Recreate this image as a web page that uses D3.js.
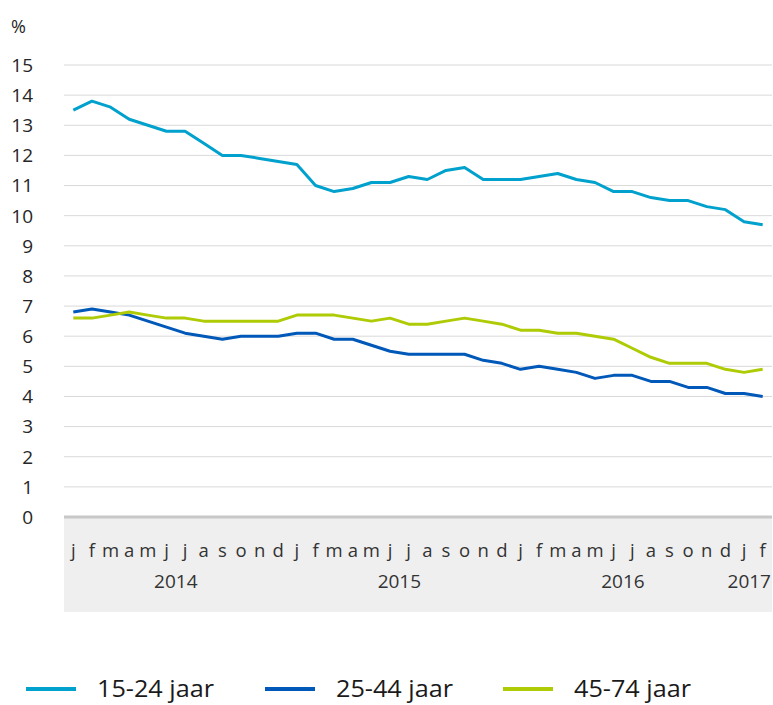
<!DOCTYPE html>
<html>
<head>
<meta charset="utf-8">
<script src="https://cdn.jsdelivr.net/npm/d3@7"></script>
<style>
  body { margin: 0; background: #fff; }
  svg { display: block; font-family: "Open Sans", "DejaVu Sans", sans-serif; }
</style>
</head>
<body>
<svg id="chart" width="773" height="705"></svg>
<script>
// Werkloosheid per leeftijdsgroep, jan 2014 - feb 2017
const monthLabels = ['j','f','m','a','m','j','j','a','s','o','n','d'];
const years = [2014, 2015, 2016, 2017];
const yTicks = d3.range(0, 16);

const age15_24 = [13.5,13.8,13.6,13.2,13.0,12.8,12.8,12.4,12.0,12.0,11.9,11.8,
                  11.7,11.0,10.8,10.9,11.1,11.1,11.3,11.2,11.5,11.6,11.2,11.2,
                  11.2,11.3,11.4,11.2,11.1,10.8,10.8,10.6,10.5,10.5,10.3,10.2,
                  9.8,9.7];
const age25_44 = [6.8,6.9,6.8,6.7,6.5,6.3,6.1,6.0,5.9,6.0,6.0,6.0,
                  6.1,6.1,5.9,5.9,5.7,5.5,5.4,5.4,5.4,5.4,5.2,5.1,
                  4.9,5.0,4.9,4.8,4.6,4.7,4.7,4.5,4.5,4.3,4.3,4.1,
                  4.1,4.0];
const age45_74 = [6.6,6.6,6.7,6.8,6.7,6.6,6.6,6.5,6.5,6.5,6.5,6.5,
                  6.7,6.7,6.7,6.6,6.5,6.6,6.4,6.4,6.5,6.6,6.5,6.4,
                  6.2,6.2,6.1,6.1,6.0,5.9,5.6,5.3,5.1,5.1,5.1,4.9,
                  4.8,4.9];

const seriesNames = ['15-24 jaar', '25-44 jaar', '45-74 jaar'];
const seriesColors = ['#00a1cd', '#0058b8', '#afcb05'];
const seriesData = [age15_24, age25_44, age45_74];

const svg = d3.select('#chart');
const plotLeft = 64, plotRight = 772, plotTop = 65, plotBottom = 517;

// month index 0..37
const periods = d3.range(age15_24.length);

const x = d3.scaleBand()
    .domain(periods)
    .range([plotLeft, plotRight]);

const y = d3.scaleLinear()
    .domain([0, 15])
    .range([plotBottom, plotTop]);

// gray band under the axis
svg.append('rect')
    .attr('x', plotLeft).attr('y', plotBottom)
    .attr('width', plotRight - plotLeft).attr('height', 95)
    .attr('fill', '#efefef');

// gridlines
svg.append('g')
    .selectAll('line')
    .data(yTicks.filter(d => d > 0))
    .join('line')
    .attr('x1', plotLeft).attr('x2', plotRight)
    .attr('y1', d => y(d)).attr('y2', d => y(d))
    .attr('stroke', '#d9d9d9')
    .attr('stroke-width', 1);

// axis line
svg.append('line')
    .attr('x1', plotLeft).attr('x2', plotRight)
    .attr('y1', y(0)).attr('y2', y(0))
    .attr('stroke', '#c8c8c8')
    .attr('stroke-width', 3);

// y tick labels
svg.append('g')
    .selectAll('text')
    .data(yTicks)
    .join('text')
    .attr('x', 33)
    .attr('y', d => y(d))
    .attr('dy', '0.36em')
    .attr('text-anchor', 'end')
    .attr('font-size', 19)
    .attr('fill', '#262626')
    .text(d => d);

svg.append('text')
    .attr('x', 11).attr('y', 33)
    .attr('font-size', 18)
    .attr('fill', '#262626')
    .text('%');

// month labels
svg.append('g')
    .selectAll('text')
    .data(periods)
    .join('text')
    .attr('x', d => x(d) + x.bandwidth() / 2)
    .attr('y', 557)
    .attr('text-anchor', 'middle')
    .attr('font-size', 18.5)
    .attr('fill', '#333')
    .text(d => monthLabels[d % 12]);

// year labels, centred under their months; last one kept inside the plot
svg.append('g')
    .selectAll('text')
    .data(years)
    .join('text')
    .attr('x', (d, i) => {
        const first = i * 12;
        const last = Math.min(first + 11, periods.length - 1);
        return d === 2017 ? plotRight - 1 : (x(first) + x(last) + x.bandwidth()) / 2;
    })
    .attr('y', 588)
    .attr('text-anchor', d => d === 2017 ? 'end' : 'middle')
    .attr('font-size', 19)
    .attr('fill', '#333')
    .text(d => d);

// lines
const line = d3.line()
    .x((d, i) => x(i) + x.bandwidth() / 2)
    .y(d => y(d));

svg.append('g')
    .selectAll('path')
    .data(seriesData)
    .join('path')
    .attr('d', d => line(d))
    .attr('fill', 'none')
    .attr('stroke', (d, i) => seriesColors[i])
    .attr('stroke-width', 3)
    .attr('stroke-linejoin', 'round');

// legend
const legendX = [26, 265, 503];
const legend = svg.append('g')
    .selectAll('g')
    .data(seriesNames)
    .join('g')
    .attr('transform', (d, i) => `translate(${legendX[i]}, 689)`);

legend.append('line')
    .attr('x1', 0).attr('x2', 50)
    .attr('stroke', (d, i) => seriesColors[i])
    .attr('stroke-width', 4);

legend.append('text')
    .attr('x', 71)
    .attr('dy', '0.34em')
    .attr('font-size', 23)
    .attr('textLength', 117)
    .attr('lengthAdjust', 'spacingAndGlyphs')
    .attr('fill', '#1a1a1a')
    .text(d => d);
</script>
</body>
</html>
